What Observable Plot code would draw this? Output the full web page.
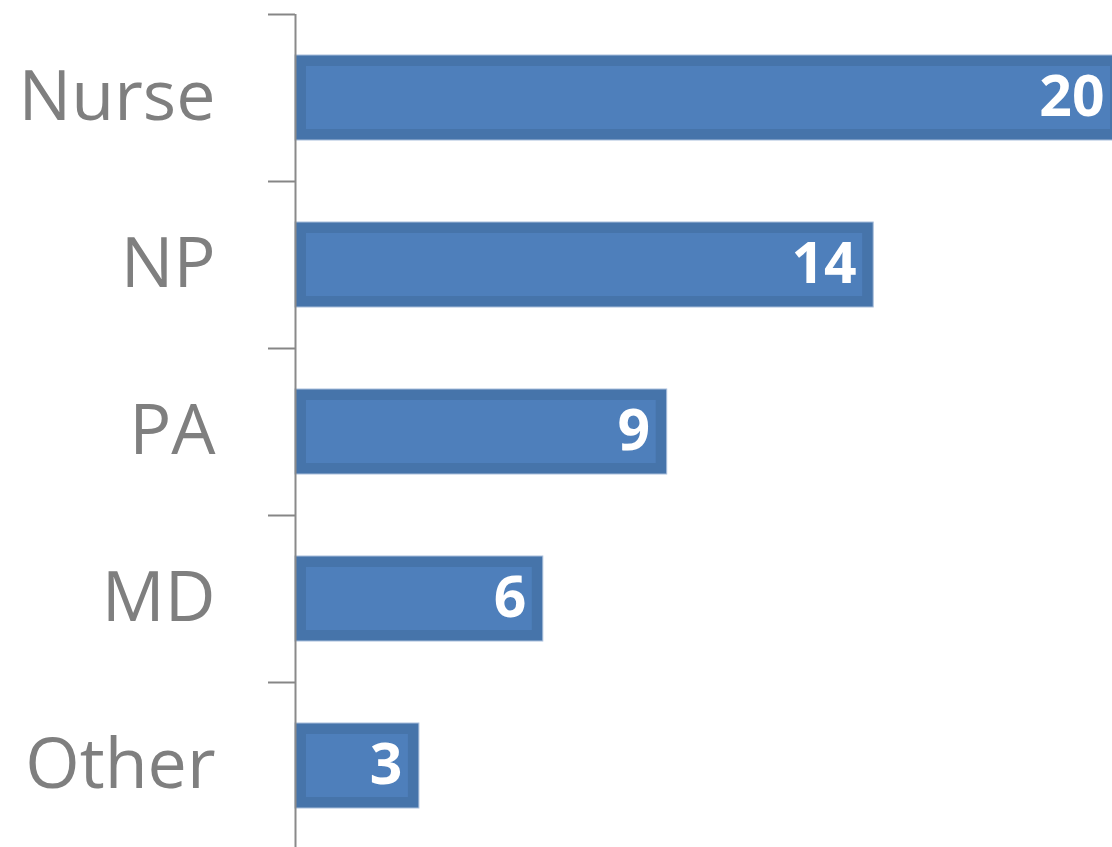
<!DOCTYPE html>
<html>
<head>
<meta charset="utf-8">
<script src="https://cdn.jsdelivr.net/npm/d3@7"></script>
<script src="https://cdn.jsdelivr.net/npm/@observablehq/plot@0.6"></script>
<style>
  html, body { margin: 0; padding: 0; background: #fff; overflow: hidden; }
  #chart svg { display: block; }
</style>
</head>
<body>
<div id="chart"></div>
<script>
const categories = ["Nurse", "NP", "PA", "MD", "Other"];
const counts = [20, 14, 9, 6, 3];

const data = categories.map((c, i) => ({category: c, count: counts[i]}));

const chart = Plot.plot({
  width: 1112,
  height: 847,
  marginTop: 14,
  marginBottom: 0,
  marginLeft: 295,
  marginRight: 0,
  style: {background: "#fff", overflow: "hidden"},
  x: {domain: [0, 20], range: [295, 1121], axis: null},
  y: {domain: categories, range: [14, 849], paddingInner: 0.49, paddingOuter: 0.245, axis: null},
  marks: [
    Plot.barX(data, {y: "category", x: "count", fill: "#4674AA", stroke: "#a8bedb", strokeWidth: 1}),
    Plot.barX(data, {y: "category", x: "count", fill: "#4E7FBB", insetLeft: 11, insetRight: 11, insetTop: 11, insetBottom: 11}),
    Plot.axisY({tickSize: 27, dy: -83.5, text: null, label: null, stroke: "#868686", strokeWidth: 2}),
    Plot.ruleX([0], {stroke: "#8a8a8a", strokeWidth: 2}),
    Plot.text(data, {y: "category", x: 0, text: "category", dx: -80, textAnchor: "end",
      fill: "#7f7f7f", fontSize: 70, fontFamily: "Open Sans"}),
    Plot.text(data, {y: "category", x: "count", text: d => String(d.count), dx: -17, textAnchor: "end",
      fill: "#ffffff", fontSize: 57, fontWeight: "bold", fontFamily: "Open Sans"})
  ]
});
document.getElementById("chart").appendChild(chart);
</script>
</body>
</html>
